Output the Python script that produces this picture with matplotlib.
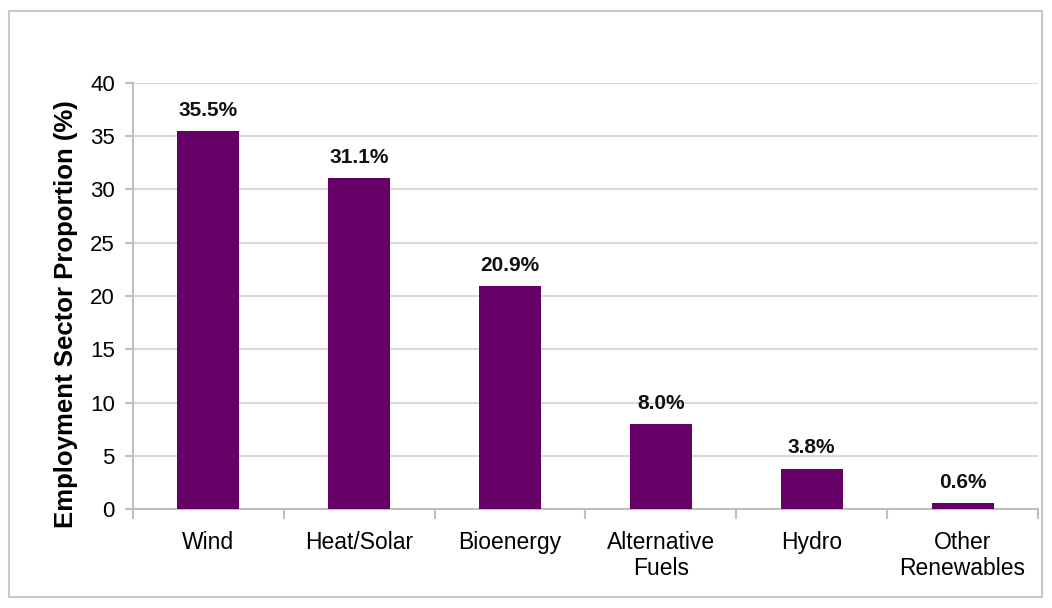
import matplotlib.pyplot as plt
from matplotlib.patches import Rectangle

# Data
sectors = ['Wind', 'Heat/Solar', 'Bioenergy', 'Alternative\nFuels', 'Hydro', 'Other\nRenewables']
shares = [35.5, 31.1, 20.9, 8.0, 3.8, 0.6]
yticks = [0, 5, 10, 15, 20, 25, 30, 35, 40]

plt.rcParams['font.family'] = ['Liberation Sans', 'DejaVu Sans']

fig = plt.figure(figsize=(10.52, 6.08), dpi=100)
ax = fig.add_axes([0.1264, 0.1628, 0.8603, 0.7007])

# outer chart border
fig.patches.append(Rectangle((9 / 1052, 11 / 608), 1033 / 1052, 586 / 608,
                             transform=fig.transFigure, fill=False,
                             edgecolor='#c8c8c8', linewidth=1.5))

x = range(len(sectors))
ax.bar(x, shares, width=0.41, color='#660066', zorder=3)

for xi, v in zip(x, shares):
    ax.annotate(f'{v:.1f}%', (xi, v), xytext=(0, 8), textcoords='offset points',
                ha='center', va='bottom', fontsize=15, fontweight='bold', color='#111111')

ax.set_xlim(-0.5, len(sectors) - 0.5)
ax.set_ylim(0, 40)
ax.set_yticks(yticks)
ax.yaxis.grid(True, color='#d9d9d9', linewidth=1.5, zorder=0)
ax.set_axisbelow(True)

ax.set_xticks(list(x))
ax.set_xticklabels(sectors, fontsize=16.5, linespacing=1.15)
ax.tick_params(axis='x', length=0, pad=16)
ax.set_xticks([i - 0.5 for i in range(len(sectors) + 1)], minor=True)
ax.tick_params(axis='x', which='minor', length=7, color='#bfbfbf', width=1.5)
ax.tick_params(axis='y', labelsize=16, length=6, color='#bfbfbf', width=1.5, pad=7)

for side in ['top', 'right']:
    ax.spines[side].set_visible(False)
for side in ['left', 'bottom']:
    ax.spines[side].set_color('#bfbfbf')
    ax.spines[side].set_linewidth(1.5)

ax.set_ylabel('Employment Sector Proportion (%)', fontsize=18.5, fontweight='bold')
ax.yaxis.set_label_coords(-0.061, 0.458)

fig.savefig('out.png', dpi=100)
